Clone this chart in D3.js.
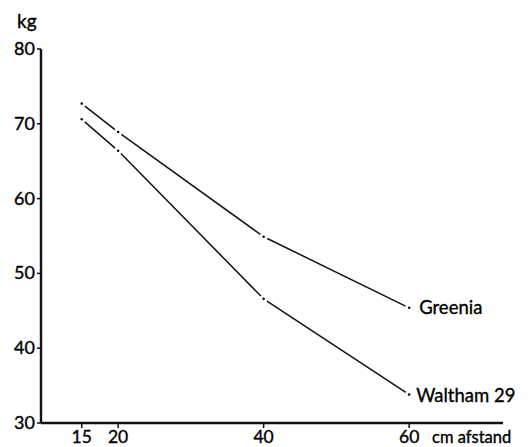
<!DOCTYPE html>
<html>
<head>
<meta charset="utf-8">
<script src="https://cdn.jsdelivr.net/npm/d3@7"></script>
<style>
  body { margin: 0; background: #fff; }
  text { font-family: Lato, "Open Sans", sans-serif; fill: #000; stroke: #000; stroke-width: 0.35; }
</style>
</head>
<body>
<svg id="chart" width="530" height="447"></svg>
<script>
const distances = [15, 20, 40, 60];
const greenia = [72.7, 68.9, 54.9, 45.4];
const waltham = [70.6, 66.4, 46.6, 33.8];
const xTicks = [15, 20, 40, 60];
const yTicks = [30, 40, 50, 60, 70, 80];
const seriesNames = ['Greenia', 'Waltham 29'];

const svg = d3.select('#chart');

const x = d3.scaleLinear().domain([9.4, 72.9]).range([41, 503]);
const y = d3.scaleLinear().domain([30, 80]).range([423, 49]);

// axes
const axes = svg.append('g').attr('stroke', '#111').attr('stroke-width', 2.4).attr('fill', 'none');
axes.append('line')
  .attr('x1', x(x.domain()[0])).attr('x2', x(x.domain()[0]))
  .attr('y1', y(30)).attr('y2', y(80));
axes.append('line')
  .attr('x1', x(x.domain()[0])).attr('x2', x(x.domain()[1]))
  .attr('y1', y(30)).attr('y2', y(30));

// y ticks
yTicks.forEach(v => {
  axes.append('line')
    .attr('x1', x(x.domain()[0]) - 4).attr('x2', x(x.domain()[0]))
    .attr('y1', y(v)).attr('y2', y(v)).attr('stroke-width', 1.5);
  svg.append('text')
    .attr('x', x(x.domain()[0]) - 6).attr('y', y(v) + 6)
    .attr('text-anchor', 'end').attr('font-size', 18)
    .text(v);
});

// x ticks
xTicks.forEach(v => {
  axes.append('line')
    .attr('x1', x(v)).attr('x2', x(v))
    .attr('y1', y(30)).attr('y2', y(30) + 5).attr('stroke-width', 1.5);
  svg.append('text')
    .attr('x', x(v)).attr('y', 443)
    .attr('text-anchor', 'middle').attr('font-size', 17.5)
    .text(v);
});

svg.append('text').attr('x', 17).attr('y', 28).attr('font-size', 19).text('kg');
svg.append('text').attr('x', 432).attr('y', 443).attr('font-size', 16.5).text('cm afstand');

// series: broken segments with a dot at each measured point
function drawSeries(vals, name, labelDx, labelDy) {
  const pts = distances.map((d, i) => [x(d), y(vals[i])]);
  const g = svg.append('g');
  for (let i = 0; i < pts.length - 1; i++) {
    const [x0, y0] = pts[i], [x1, y1] = pts[i + 1];
    const len = Math.hypot(x1 - x0, y1 - y0);
    const ux = (x1 - x0) / len, uy = (y1 - y0) / len;
    g.append('line')
      .attr('x1', x0 + ux * 4).attr('y1', y0 + uy * 4)
      .attr('x2', x1 - ux * 4).attr('y2', y1 - uy * 4)
      .attr('stroke', '#111').attr('stroke-width', 1.5);
  }
  g.selectAll('circle').data(pts).join('circle')
    .attr('cx', d => d[0]).attr('cy', d => d[1]).attr('r', 1.3).attr('fill', '#111');
  const last = pts[pts.length - 1];
  svg.append('text')
    .attr('x', last[0] + labelDx).attr('y', last[1] + labelDy)
    .attr('font-size', 18.5).text(name);
}
drawSeries(greenia, seriesNames[0], 10, 6);
drawSeries(waltham, seriesNames[1], 7, 7);
</script>
</body>
</html>
